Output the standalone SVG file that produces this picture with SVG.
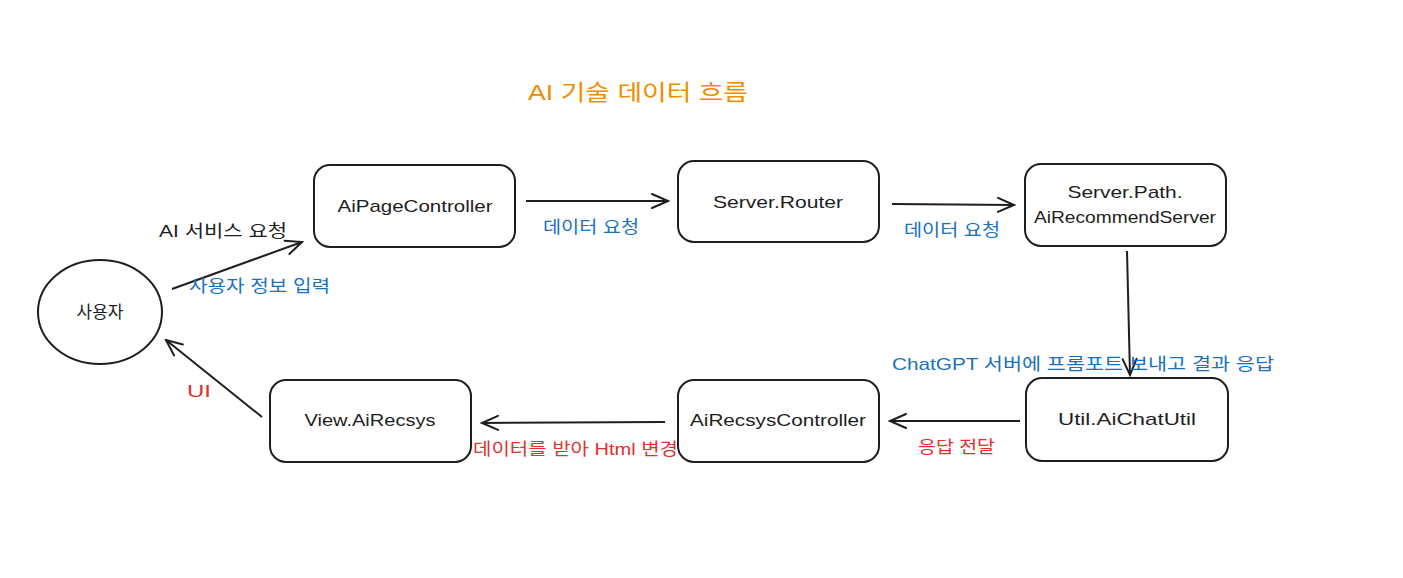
<svg xmlns="http://www.w3.org/2000/svg" width="1403" height="578" viewBox="0 0 1403 578">
<defs>
<style>
.node{fill:#fff;stroke:#1e1e1e;stroke-width:2}
.lbl{font-family:"Liberation Sans","Noto Sans CJK KR",sans-serif;font-size:17px;fill:#1e1e1e;text-anchor:middle}
.t{font-family:"Liberation Sans","Noto Sans CJK KR",sans-serif;font-size:17px}
.blue{fill:#1971c2}.red{fill:#e03131}.black{fill:#1e1e1e}.orange{fill:#f08c00}
.edge{stroke:#1e1e1e;stroke-width:2;fill:none}
</style>
<marker id="ah" viewBox="0 0 20 20" refX="18" refY="10" markerWidth="20" markerHeight="20" markerUnits="userSpaceOnUse" orient="auto">
<path d="M2 3 L18 10 L2 17" fill="none" stroke="#1e1e1e" stroke-width="2" stroke-linecap="round"/>
</marker>
</defs>
<rect width="1403" height="578" fill="#fff"/>
<text class="t orange" x="528" y="100" font-size="22" style="font-size:22px" textLength="220" lengthAdjust="spacingAndGlyphs">AI 기술 데이터 흐름</text>
<g id="edges">
<path class="edge" d="M172 289 L302 242" marker-end="url(#ah)"/>
<path class="edge" d="M526 201 L668 201" marker-end="url(#ah)"/>
<path class="edge" d="M892 204 L1014 205" marker-end="url(#ah)"/>
<path class="edge" d="M1127 251 L1130 375" marker-end="url(#ah)"/>
<path class="edge" d="M1020 421 L890 421" marker-end="url(#ah)"/>
<path class="edge" d="M665 422 L482 423" marker-end="url(#ah)"/>
<path class="edge" d="M262 417 L166 340" marker-end="url(#ah)"/>
<text class="t black" x="159" y="237" textLength="128" lengthAdjust="spacingAndGlyphs">AI 서비스 요청</text>
<text class="t blue" x="189" y="292" textLength="141" lengthAdjust="spacingAndGlyphs">사용자 정보 입력</text>
<text class="t blue" x="543" y="233" textLength="96" lengthAdjust="spacingAndGlyphs">데이터 요청</text>
<text class="t blue" x="904" y="236" textLength="96" lengthAdjust="spacingAndGlyphs">데이터 요청</text>
<text class="t blue" x="892" y="370" textLength="382" lengthAdjust="spacingAndGlyphs">ChatGPT 서버에 프롬포트 보내고 결과 응답</text>
<text class="t red" x="918" y="453" textLength="77" lengthAdjust="spacingAndGlyphs">응답 전달</text>
<text class="t red" x="473" y="455" textLength="205" lengthAdjust="spacingAndGlyphs">데이터를 받아 Html 변경</text>
<text class="t red" x="187" y="397" textLength="24" lengthAdjust="spacingAndGlyphs">UI</text>
</g>
<g id="user">
<ellipse class="node" cx="100" cy="312" rx="62" ry="52"/>
<text class="lbl" x="100" y="318">사용자</text>
</g>
<g id="aipagecontroller">
<rect class="node" x="314" y="165" width="201" height="82" rx="16"/>
<text class="lbl" x="415" y="212" textLength="155" lengthAdjust="spacingAndGlyphs">AiPageController</text>
</g>
<g id="router">
<rect class="node" x="678" y="161" width="201" height="81" rx="16"/>
<text class="lbl" x="778" y="208" textLength="130" lengthAdjust="spacingAndGlyphs">Server.Router</text>
</g>
<g id="recommendserver">
<rect class="node" x="1025" y="164" width="201" height="82" rx="16"/>
<text class="lbl" x="1125" y="198" textLength="115" lengthAdjust="spacingAndGlyphs">Server.Path.</text>
<text class="lbl" x="1125" y="223" textLength="182" lengthAdjust="spacingAndGlyphs">AiRecommendServer</text>
</g>
<g id="aichatutil">
<rect class="node" x="1026" y="378" width="202" height="83" rx="16"/>
<text class="lbl" x="1127" y="425" textLength="138" lengthAdjust="spacingAndGlyphs">Util.AiChatUtil</text>
</g>
<g id="airecsyscontroller">
<rect class="node" x="678" y="380" width="201" height="82" rx="16"/>
<text class="lbl" x="778" y="426" textLength="176" lengthAdjust="spacingAndGlyphs">AiRecsysController</text>
</g>
<g id="viewairecsys">
<rect class="node" x="270" y="380" width="201" height="82" rx="16"/>
<text class="lbl" x="370" y="426" textLength="131" lengthAdjust="spacingAndGlyphs">View.AiRecsys</text>
</g>
</svg>
